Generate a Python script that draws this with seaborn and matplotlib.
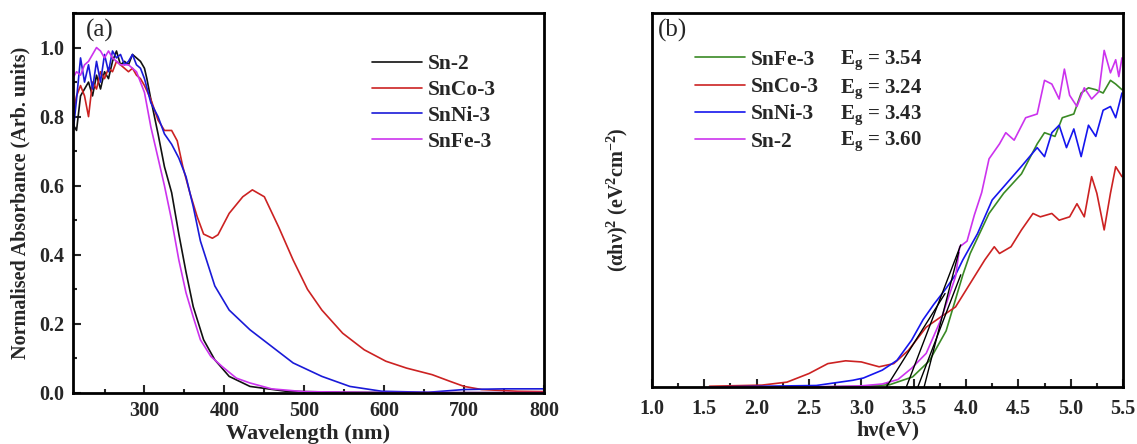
import numpy as np
import pandas as pd
import matplotlib
matplotlib.use('Agg')
import matplotlib.pyplot as plt
from matplotlib.ticker import MultipleLocator
import seaborn as sns

# ---- panel (a) : normalised absorbance vs wavelength ----
nm_head = [210, 215, 220, 225, 230, 235, 240, 245, 250, 255, 260, 265, 270, 275, 280, 285, 290, 295, 300]

sn2_nm = nm_head + [303, 308, 317, 325, 334, 343, 352, 361, 374, 388, 406, 432, 477, 550, 650, 800]
sn2_abs = [0.78, 0.76, 0.86, 0.88, 0.90, 0.86, 0.92, 0.88, 0.93, 0.91, 0.96, 0.99, 0.95, 0.96, 0.95, 0.98, 0.97, 0.96, 0.94,
           0.91, 0.85, 0.75, 0.655, 0.58, 0.46, 0.35, 0.25, 0.154, 0.096, 0.048, 0.019, 0.005, 0.002, 0.001, 0.001]

snfe_nm = nm_head + [308, 317, 325, 334, 343, 352, 361, 370, 383, 397, 415, 432, 459, 499, 600, 800]
snfe_abs = [0.91, 0.93, 0.92, 0.95, 0.96, 0.98, 1.0, 0.99, 0.97, 0.99, 0.97, 0.96, 0.95, 0.95, 0.95, 0.94, 0.93, 0.90, 0.87,
            0.77, 0.68, 0.60, 0.50, 0.385, 0.29, 0.22, 0.154, 0.106, 0.077, 0.043, 0.029, 0.012, 0.004, 0.001, 0.001]

snni_nm = nm_head + [308, 317, 325, 334, 343, 352, 361, 370, 388, 406, 432, 459, 486, 522, 557, 597, 655, 700, 750, 800]
snni_abs = [0.74, 0.85, 0.97, 0.90, 0.95, 0.88, 0.96, 0.90, 0.98, 0.93, 0.99, 0.97, 0.98, 0.95, 0.96, 0.98, 0.95, 0.94, 0.91,
            0.84, 0.80, 0.75, 0.72, 0.68, 0.626, 0.54, 0.44, 0.31, 0.24, 0.183, 0.135, 0.087, 0.048, 0.019, 0.005, 0.002,
            0.01, 0.012, 0.012]

snco_nm = nm_head + [308, 317, 325, 334, 341, 348, 357, 366, 374, 385, 392, 406, 423, 435, 450, 468, 486, 504, 522, 548,
                     575, 602, 628, 660, 682, 700, 722, 767, 800]
snco_abs = [0.80, 0.86, 0.89, 0.86, 0.80, 0.90, 0.88, 0.93, 0.91, 0.94, 0.93, 0.96, 0.95, 0.94, 0.93, 0.94, 0.92, 0.91, 0.89,
            0.85, 0.79, 0.76, 0.76, 0.73, 0.655, 0.578, 0.51, 0.46, 0.448, 0.458, 0.52, 0.568, 0.588, 0.568, 0.48, 0.385,
            0.30, 0.24, 0.173, 0.125, 0.092, 0.072, 0.053, 0.034, 0.019, 0.01, 0.005, 0.004]

# ---- panel (b) : Tauc plot ----
sn2_ev = [1.55, 2.5, 3.0, 3.2, 3.35, 3.48, 3.62, 3.76, 3.90, 3.94, 4.01, 4.08, 4.15, 4.22, 4.32, 4.38, 4.46, 4.57, 4.68,
          4.75, 4.82, 4.89, 4.94, 4.99, 5.06, 5.13, 5.20, 5.27, 5.32, 5.38, 5.43, 5.46, 5.49]
sn2_tauc = [0.0, 0.0, 0.003, 0.008, 0.02, 0.05, 0.09, 0.18, 0.295, 0.375, 0.39, 0.46, 0.52, 0.61, 0.65, 0.68, 0.66, 0.72,
            0.73, 0.82, 0.81, 0.77, 0.85, 0.78, 0.75, 0.80, 0.77, 0.79, 0.90, 0.84, 0.875, 0.83, 0.88]

snfe_ev = [1.55, 2.5, 3.0, 3.27, 3.49, 3.65, 3.81, 3.97, 4.04, 4.22, 4.36, 4.53, 4.68, 4.75, 4.85, 4.92, 5.03, 5.10, 5.17,
           5.24, 5.31, 5.38, 5.43, 5.49]
snfe_tauc = [0.0, 0.0, 0.002, 0.006, 0.027, 0.07, 0.15, 0.30, 0.357, 0.464, 0.518, 0.57, 0.65, 0.68, 0.67, 0.72, 0.73,
             0.786, 0.80, 0.795, 0.786, 0.82, 0.81, 0.795]

snni_ev = [1.55, 2.57, 2.92, 3.02, 3.2, 3.34, 3.48, 3.59, 3.69, 3.80, 3.90, 3.97, 4.11, 4.25, 4.39, 4.53, 4.68, 4.75, 4.82,
           4.89, 4.96, 5.03, 5.10, 5.17, 5.24, 5.31, 5.38, 5.43, 5.49]
snni_tauc = [0.0, 0.004, 0.018, 0.024, 0.045, 0.071, 0.125, 0.18, 0.22, 0.26, 0.30, 0.34, 0.41, 0.50, 0.545, 0.59, 0.64,
             0.616, 0.68, 0.70, 0.64, 0.69, 0.616, 0.70, 0.67, 0.74, 0.75, 0.72, 0.786]

snco_ev = [1.55, 2.05, 2.29, 2.5, 2.68, 2.85, 3.0, 3.17, 3.31, 3.45, 3.62, 3.76, 3.90, 4.04, 4.18, 4.27, 4.32, 4.43, 4.53,
           4.64, 4.71, 4.82, 4.89, 4.99, 5.06, 5.13, 5.20, 5.25, 5.32, 5.38, 5.43, 5.49]
snco_tauc = [0.002, 0.005, 0.013, 0.036, 0.0625, 0.07, 0.067, 0.054, 0.0625, 0.098, 0.16, 0.1875, 0.214, 0.277, 0.34,
             0.375, 0.357, 0.375, 0.42, 0.464, 0.455, 0.464, 0.446, 0.455, 0.49, 0.455, 0.5625, 0.518, 0.42, 0.518, 0.589,
             0.5625]

# band gap tangents : intercept and upper end
tauc_names = ['SnFe-3', 'SnCo-3', 'SnNi-3', 'Sn-2']
eg_values = [3.54, 3.24, 3.43, 3.60]
tan_end_ev = [3.95, 3.80, 3.95, 3.93]
tan_end_val = [0.30, 0.25, 0.38, 0.36]

abs_names = ['Sn-2', 'SnCo-3', 'SnNi-3', 'SnFe-3']

# tables for seaborn
df_a = pd.concat([
    pd.DataFrame({'nm': sn2_nm, 'A': sn2_abs, 'sample': 'Sn-2'}),
    pd.DataFrame({'nm': snco_nm, 'A': snco_abs, 'sample': 'SnCo-3'}),
    pd.DataFrame({'nm': snni_nm, 'A': snni_abs, 'sample': 'SnNi-3'}),
    pd.DataFrame({'nm': snfe_nm, 'A': snfe_abs, 'sample': 'SnFe-3'}),
], ignore_index=True)

df_b = pd.concat([
    pd.DataFrame({'ev': snfe_ev, 'v': snfe_tauc, 'sample': 'SnFe-3'}),
    pd.DataFrame({'ev': snco_ev, 'v': snco_tauc, 'sample': 'SnCo-3'}),
    pd.DataFrame({'ev': snni_ev, 'v': snni_tauc, 'sample': 'SnNi-3'}),
    pd.DataFrame({'ev': sn2_ev, 'v': sn2_tauc, 'sample': 'Sn-2'}),
], ignore_index=True)

# styling
sns.set_style('white')
plt.rcParams['font.family'] = ['Liberation Serif', 'DejaVu Serif']
plt.rcParams['mathtext.fontset'] = 'custom'
plt.rcParams['mathtext.rm'] = 'Liberation Serif:bold'
plt.rcParams['mathtext.it'] = 'Liberation Serif:bold'
plt.rcParams['mathtext.bf'] = 'Liberation Serif:bold'

pal_a = {'Sn-2': '#111111', 'SnCo-3': '#cc2222', 'SnNi-3': '#1a1ad8', 'SnFe-3': '#cc33ee'}
pal_b = {'SnFe-3': '#3a8a25', 'SnCo-3': '#cc2222', 'SnNi-3': '#1515ee', 'Sn-2': '#cc33ee'}

fig = plt.figure(figsize=(11.37, 4.44), dpi=100)
ax1 = fig.add_axes([0.0638, 0.1149, 0.4147, 0.8558])
ax2 = fig.add_axes([0.5734, 0.1284, 0.4143, 0.8423])

# panel (a)
sns.lineplot(data=df_a, x='nm', y='A', hue='sample', hue_order=abs_names, palette=pal_a,
             estimator=None, sort=False, linewidth=1.2, ax=ax1)
ax1.set_xlim(210, 800)
ax1.set_ylim(0, 1.1)
ax1.xaxis.set_major_locator(MultipleLocator(100))
ax1.xaxis.set_minor_locator(MultipleLocator(50))
ax1.yaxis.set_major_locator(MultipleLocator(0.2))
ax1.yaxis.set_minor_locator(MultipleLocator(0.1))
ax1.set_xticks([300, 400, 500, 600, 700, 800])
ax1.set_yticks([0.0, 0.2, 0.4, 0.6, 0.8, 1.0])
ax1.set_yticklabels(['0.0', '0.2', '0.4', '0.6', '0.8', '1.0'])
ax1.set_xlabel('Wavelength (nm)', fontsize=16, fontweight='bold', labelpad=2)
ax1.set_ylabel('Normalised Absorbance (Arb. units)', fontsize=14.5, fontweight='bold', labelpad=6)
ax1.text(0.028, 0.985, '(a)', transform=ax1.transAxes, fontsize=18, va='top', ha='left')
leg = ax1.legend(loc='upper left', bbox_to_anchor=(0.612, 0.92), frameon=False, handlelength=2.35, borderpad=0,
                 handletextpad=0.25, labelspacing=0.27, prop={'weight': 'bold', 'size': 15.5})

# panel (b)
sns.lineplot(data=df_b, x='ev', y='v', hue='sample', hue_order=tauc_names, palette=pal_b,
             estimator=None, sort=False, linewidth=1.2, ax=ax2)
for eg, xe, ye in zip(eg_values, tan_end_ev, tan_end_val):
    sns.lineplot(x=[eg, xe], y=[0, ye], color='black', linewidth=1.0, ax=ax2)
ax2.set_xlim(1.0, 5.5)
ax2.set_ylim(0, 1.0)
ax2.xaxis.set_major_locator(MultipleLocator(0.5))
ax2.xaxis.set_minor_locator(MultipleLocator(0.25))
ax2.set_yticks([])
ax2.set_xticks(np.arange(1.0, 5.51, 0.5))
ax2.set_xticklabels(['1.0', '1.5', '2.0', '2.5', '3.0', '3.5', '4.0', '4.5', '5.0', '5.5'])
ax2.set_xlabel('hν(eV)', fontsize=16, fontweight='bold', labelpad=1)
ax2.set_ylabel(r'(αhν)$^2$ (eV$^2$cm$^{-2}$)', fontsize=14.5, fontweight='bold', labelpad=16)
ax2.text(0.012, 0.985, '(b)', transform=ax2.transAxes, fontsize=18, va='top', ha='left')
leg2 = ax2.legend(loc='upper left', bbox_to_anchor=(0.068, 0.93), frameon=False, handlelength=2.35, borderpad=0,
                  handletextpad=0.25, labelspacing=0.33, prop={'weight': 'bold', 'size': 15.5})
eg_y = [0.874, 0.797, 0.727, 0.658]
for yy, eg in zip(eg_y, eg_values):
    ax2.text(0.40, yy, r'E$_\mathrm{g}$ = %.2f' % eg, transform=ax2.transAxes, fontsize=15,
             fontweight='bold', va='center', ha='left')

for ax in (ax1, ax2):
    for sp in ax.spines.values():
        sp.set_linewidth(2.0)
        sp.set_color('black')
    ax.tick_params(axis='both', which='major', direction='in', length=6, width=1.5, pad=6,
                   labelsize=14.5, bottom=True, left=True, top=False, right=False)
    ax.tick_params(axis='both', which='minor', direction='in', length=3, width=1.5,
                   bottom=True, left=True, top=False, right=False)
    for lab in ax.get_xticklabels() + ax.get_yticklabels():
        lab.set_fontweight('bold')
ax2.tick_params(axis='y', which='both', left=False)
ax2.tick_params(axis='x', which='major', pad=9)

fig.savefig('out.png', dpi=100)
